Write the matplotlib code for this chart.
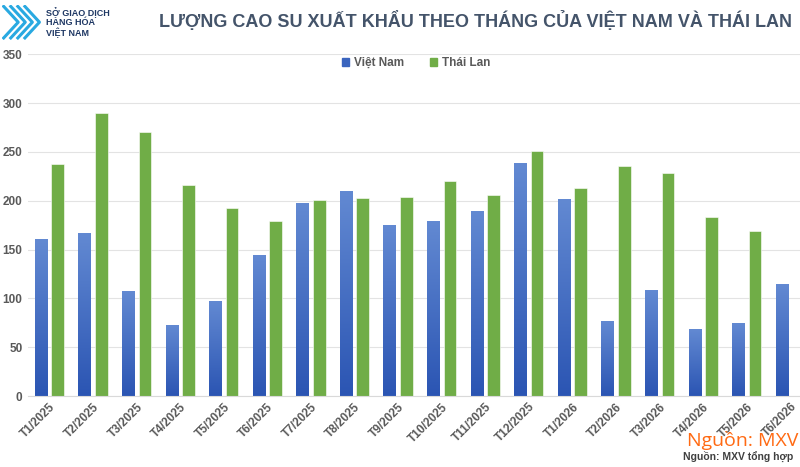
import numpy as np
import matplotlib
matplotlib.use('Agg')
import matplotlib.pyplot as plt
from matplotlib.patches import Patch

plt.rcParams['font.family'] = ['Liberation Sans', 'DejaVu Sans']

# du lieu doc tu bieu do
thang = ['T1/2025', 'T2/2025', 'T3/2025', 'T4/2025', 'T5/2025', 'T6/2025',
         'T7/2025', 'T8/2025', 'T9/2025', 'T10/2025', 'T11/2025', 'T12/2025',
         'T1/2026', 'T2/2026', 'T3/2026', 'T4/2026', 'T5/2026', 'T6/2026']
viet_nam = [160, 166, 107, 72, 97, 144, 197, 209, 175, 179, 189, 238,
            201, 76, 108, 68, 74, 114]
thai_lan = [238, 290, 270, 216, 193, 179, 201, 203, 204, 220, 206, 251,
            213, 236, 228, 183, 169, np.nan]

mau_vn = '#3A64BE'
mau_tl = '#70AD47'
mau_chu = '#595959'

fig = plt.figure(figsize=(8, 4.67), dpi=100)
ax = fig.add_axes([0.035, 0.152, 0.965, 0.732])

x = np.arange(len(thang))
w = 0.29
off = 0.19

bars_vn = ax.bar(x - off, viet_nam, w, color=mau_vn, zorder=2)
ax.bar(x + off, thai_lan, w, color=mau_tl, edgecolor='white', linewidth=0.4, zorder=2)

# do mau chuyen cho cot Viet Nam
grad = np.linspace(0, 1, 100).reshape(-1, 1)
cmap = matplotlib.colors.LinearSegmentedColormap.from_list('vn', ['#2B55B3', '#6289D2'])
for b in bars_vn:
    x0 = b.get_x()
    h = b.get_height()
    ax.imshow(grad, extent=(x0, x0 + b.get_width(), 0, h), origin='lower',
              cmap=cmap, aspect='auto', zorder=2.5)

ax.set_xlim(-0.49, 17.22)
ax.set_ylim(0, 350)
ax.set_yticks(range(0, 351, 50))
ax.grid(axis='y', color='#E3E3E3', linewidth=0.8, zorder=0)
for s in ['top', 'right', 'left']:
    ax.spines[s].set_visible(False)
ax.spines['bottom'].set_color('#D9D9D9')
ax.tick_params(axis='both', length=0, labelsize=8.5, labelcolor=mau_chu)
ax.tick_params(axis='y', pad=4)
ax.set_xticks(x)
ax.set_xticklabels(thang, rotation=45, ha='right', rotation_mode='anchor', fontweight='bold')
for t in ax.get_yticklabels():
    t.set_fontweight('bold')

# tieu de
fig.text(0.594, 0.955, 'LƯỢNG CAO SU XUẤT KHẨU THEO THÁNG CỦA VIỆT NAM VÀ THÁI LAN',
         ha='center', va='center', fontsize=13, fontweight='bold', color='#44546A')

# chu thich
handles = [Patch(color=mau_vn, label='Việt Nam'), Patch(color=mau_tl, label='Thái Lan')]
leg = fig.legend(handles=handles, loc='center', bbox_to_anchor=(0.52, 0.865), ncol=2,
                 frameon=False, fontsize=8.5, handlelength=0.6, handleheight=0.6,
                 columnspacing=2.2, handletextpad=0.4)
for t in leg.get_texts():
    t.set_color(mau_chu)
    t.set_fontweight('bold')

# logo
axl = fig.add_axes([0.002, 0.915, 0.052, 0.075])
axl.set_xlim(0, 10)
axl.set_ylim(0, 10)
axl.axis('off')
for k in range(4):
    axl.plot([0.5 + k * 1.7, 4.0 + k * 1.7, 0.5 + k * 1.7], [9.5, 5, 0.5], color='#29A9E1', lw=2.2)
fig.text(0.057, 0.952, 'SỞ GIAO DỊCH\nHÀNG HÓA\nVIỆT NAM', ha='left', va='center',
         fontsize=6.5, fontweight='bold', color='#1F3864', linespacing=1.0)

# nguon
fig.text(0.998, 0.056, 'Nguồn: MXV', ha='right', va='center', fontsize=14,
         color='#FF6A13', family=['Open Sans', 'DejaVu Sans'])
fig.text(0.991, 0.022, 'Nguồn: MXV tổng hợp', ha='right', va='center', fontsize=7.5,
         fontweight='bold', color='#404040')

fig.savefig('out.png', dpi=100)
